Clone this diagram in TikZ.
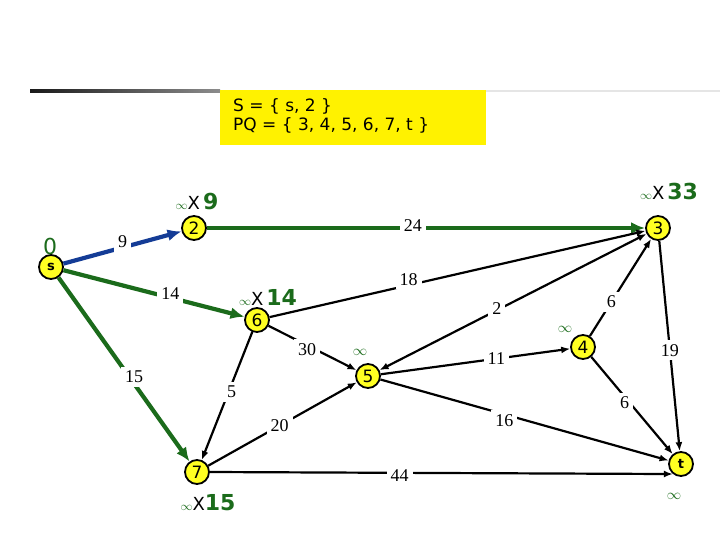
\documentclass[tikz,border=0pt]{standalone}
\usepackage{fontspec}
\setmainfont{Liberation Serif}
\setsansfont{DejaVu Sans}
\usepackage{xcolor}
\usetikzlibrary{arrows.meta}
\definecolor{treec}{HTML}{1B6B1B}
\definecolor{pickc}{HTML}{143C96}
\definecolor{vtxc}{HTML}{FFFF22}

\newcommand{\dinf}{{\color{treec}\fontsize{13}{13}\selectfont$\infty$}}
\newcommand{\dnew}[1]{{\color{treec}\fontsize{22}{22}\selectfont\bfseries #1}}

\begin{document}
\begin{tikzpicture}[x=1pt,y=-1pt,font=\sffamily,
  vertex/.style={circle,draw,line width=1.8pt,fill=vtxc,minimum size=24pt,inner sep=0pt,
    font=\sffamily\fontsize{17}{17}\selectfont},
  wt/.style={fill=white,text=black,inner sep=4pt,font=\rmfamily\fontsize{18}{18}\selectfont},
  dist/.style={inner sep=0pt,font=\sffamily\fontsize{18}{18}\selectfont},
  plainarc/.style={line width=2.2pt,-{Latex[length=9pt,width=7pt]}},
  botharc/.style={line width=2.2pt,{Latex[length=9pt,width=7pt]}-{Latex[length=9pt,width=7pt]}},
  treearc/.style={line width=4.2pt,treec,-{Latex[length=14pt,width=12pt]}},
  pickarc/.style={line width=4.2pt,pickc,-{Latex[length=14pt,width=12pt]}}]
  \useasboundingbox (0,0) rectangle (720,540);

  % title rule and status box
  \shade[left color=black!90,right color=black!45] (30,89.5) rectangle (220,92.5);
  \fill[black!10] (486,90) rectangle (720,92);
  \fill[yellow] (220,90) rectangle (486,145);
  \node[anchor=north west,align=left,inner sep=0pt,font=\sffamily\fontsize{17}{19}\selectfont]
    (sets) at (233,98) {S = \{ s, 2 \}\\PQ = \{ 3, 4, 5, 6, 7, t \}};

  % vertices
  \node[vertex] (s)  at (51,267)  {\fontsize{13}{13}\selectfont\bfseries s};
  \node[vertex] (v2) at (194,228) {2};
  \node[vertex] (v3) at (658,228) {3};
  \node[vertex] (v6) at (257,320) {6};
  \node[vertex] (v5) at (368,376) {5};
  \node[vertex] (v4) at (583,347) {4};
  \node[vertex] (v7) at (197,472) {7};
  \node[vertex] (t)  at (681,464) {\fontsize{13}{13}\selectfont\bfseries t};

  % distance labels
  \node[dist] (ds) at (50,246)  {\color{treec}\fontsize{22}{22}\selectfont 0};
  \node[dist] (d2) at (197,202) {\dinf X\,\dnew{9}};
  \node[dist] (d3) at (669,191) {\dinf X\,\dnew{33}};
  \node[dist] (d6) at (268,297) {\dinf X\,\dnew{14}};
  \node[dist] (d7) at (208,503) {\dinf X\dnew{15}};
  \node[dist,treec,font=\fontsize{15}{15}\selectfont] (d5) at (360,352) {$\infty$};
  \node[dist,treec,font=\fontsize{15}{15}\selectfont] (d4) at (565,329) {$\infty$};
  \node[dist,treec,font=\fontsize{15}{15}\selectfont] (dt) at (674,496) {$\infty$};

  % tree edges so far
  \draw[pickarc] (s) -- node[wt,pos=0.5,yshift=6pt] (w9) {9} (v2);
  \draw[treearc] (v2) -- node[wt,pos=0.47,yshift=2pt] (w24) {24} (v3);
  \draw[treearc] (s) -- node[wt,pos=0.59,yshift=4pt] (w14) {14} (v6);
  \draw[treearc] (s) -- node[wt,pos=0.54,xshift=5pt] (w15) {15} (v7);

  % remaining edges
  \draw[plainarc] (v6) -- node[wt,pos=0.37,yshift=6pt] (w18) {18} (v3);
  \draw[botharc]  (v5) -- node[wt,pos=0.44,yshift=2pt] (w2) {2} (v3);
  \draw[plainarc] (v4) -- node[wt,pos=0.35] (w6a) {6} (v3);
  \draw[plainarc] (v3) -- node[wt,pos=0.52] (w19) {19} (t);
  \draw[plainarc] (v6) -- node[wt,pos=0.44,yshift=-4pt] (w30) {30} (v5);
  \draw[plainarc] (v6) -- node[wt,pos=0.47,xshift=3pt] (w5) {5} (v7);
  \draw[plainarc] (v7) -- node[wt,pos=0.48] (w20) {20} (v5);
  \draw[plainarc] (v5) -- node[wt,pos=0.61] (w11) {11} (v4);
  \draw[plainarc] (v4) -- node[wt,pos=0.47,xshift=-5pt] (w6b) {6} (t);
  \draw[plainarc] (v5) -- node[wt,pos=0.43,yshift=-6pt] (w16) {16} (t);
  \draw[plainarc] (v7.east) -- node[wt,pos=0.41,yshift=-3pt] (w44) {44} (t.231);
\end{tikzpicture}
\end{document}
